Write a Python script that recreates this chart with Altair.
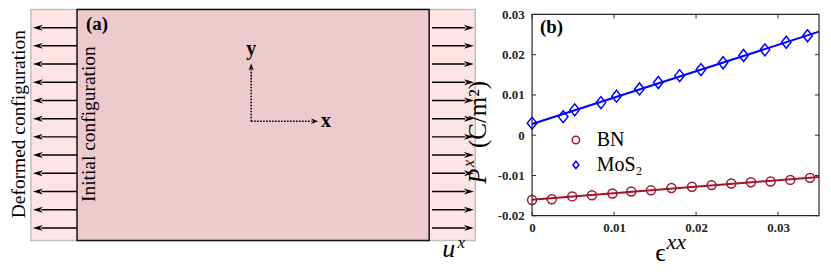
import altair as alt
import pandas as pd

# ---------------- panel (b): values ----------------
bn_strain = [0.0, 0.0024, 0.0049, 0.0073, 0.0098, 0.0121, 0.0145, 0.0170,
             0.0195, 0.0219, 0.0243, 0.0267, 0.0291, 0.0315, 0.0339]
bn_polarization = [-0.0161, -0.0159, -0.0152, -0.0149, -0.0145, -0.0140, -0.0137, -0.0131,
                   -0.0128, -0.0124, -0.0120, -0.0117, -0.0115, -0.0111, -0.0106]
mos2_strain = [0.0, 0.0038, 0.0052, 0.0084, 0.0103, 0.0131, 0.0154, 0.0180,
               0.0206, 0.0233, 0.0258, 0.0284, 0.0310, 0.0336]
mos2_polarization = [0.0030, 0.0046, 0.0063, 0.0081, 0.0097, 0.0115, 0.0131, 0.0148,
                     0.0163, 0.0180, 0.0198, 0.0212, 0.0231, 0.0247]
series_names = ["BN", "MoS₂"]
series_colors = ["#A2142F", "#0000FF"]
x_tick_values = [0, 0.01, 0.02, 0.03]
y_tick_values = [-0.02, -0.01, 0, 0.01, 0.02, 0.03]
x_range = [0, 0.035]
y_range = [-0.02, 0.03]

# ---------------- panel (a): schematic geometry (schematic units) ----------------
outer_box_x = [0.0, 23.12]
inner_box_x = [2.4, 20.72]
box_depth = [0.0, 12.7]
arrow_rows = [1, 2, 3, 4, 5, 6, 7, 8, 9, 10, 11, 12]
left_arrow_x = [2.4, 0.55, 0.1]      # shaft start, shaft end, tip
right_arrow_x = [20.87, 22.6, 23.05]
frame_origin = [11.46, 6.14]
y_arrow = [3.3, 2.97]                # shaft end depth, tip depth
x_arrow = [14.6, 14.94]              # shaft end x, tip x

# ---------------- layout ----------------
W_L, H_L = 446, 227
W_R, H_R = 288, 202
SPACING = 57
PPU_Y = 232 / 12.7
D0 = 12.7 - H_L / PPU_Y
FRAME = "#262626"
SERIF = "Liberation Serif, Tinos, 'Times New Roman', Times, 'DejaVu Serif', serif"

ARROW_HEAD = "M0,0L-1,-0.3L-0.72,0L-1,0.3Z"
AXIS_HEAD = "M0,0L-1,-0.38L-0.72,0L-1,0.38Z"
DIAMOND = "M0,-1L0.8,0L0,1L-0.8,0Z"
marker_shapes = ["circle", DIAMOND]
marker_sizes = [81, 144]

one = pd.DataFrame({"k": [0]})

# ---------------- left chart ----------------
xs = alt.Scale(domain=[outer_box_x[0], outer_box_x[1]], nice=False, zero=False)
ys = alt.Scale(domain=[D0, box_depth[1]], nice=False, zero=False, reverse=True)


def sx(f):
    return alt.X(f, type="quantitative", scale=xs, axis=None)


def sy(f):
    return alt.Y(f, type="quantitative", scale=ys, axis=None)


def box(xpair, fill, stroke):
    df = pd.DataFrame({"x0": [xpair[0]], "x1": [xpair[1]],
                       "d0": [box_depth[0]], "d1": [box_depth[1]]})
    return alt.Chart(df).mark_rect(fill=fill, stroke=stroke, strokeWidth=1.5).encode(
        x=sx("x0"), x2="x1", y=sy("d0"), y2="d1")


rows = []
for d in arrow_rows:
    rows.append({"depth": d, "x0": left_arrow_x[0], "x1": left_arrow_x[1],
                 "tip": left_arrow_x[2], "angle": 180})
    rows.append({"depth": d, "x0": right_arrow_x[0], "x1": right_arrow_x[1],
                 "tip": right_arrow_x[2], "angle": 0})
arrows_df = pd.DataFrame(rows)

shafts = alt.Chart(arrows_df).mark_rule(color="black", strokeWidth=1.5).encode(
    x=sx("x0"), x2="x1", y=sy("depth"))
heads = alt.Chart(arrows_df).mark_point(
    shape=ARROW_HEAD, filled=True, color="black", size=400, opacity=1, strokeWidth=0
).encode(x=sx("tip"), y=sy("depth"), angle=alt.Angle("angle:Q", scale=None))

ax_df = pd.DataFrame({
    "x0": [frame_origin[0], frame_origin[0]],
    "x1": [frame_origin[0], x_arrow[0]],
    "d0": [frame_origin[1], frame_origin[1]],
    "d1": [y_arrow[0], frame_origin[1]],
})
ax_shafts = alt.Chart(ax_df).mark_rule(color="black", strokeWidth=1.6, strokeDash=[1.6, 1.4]).encode(
    x=sx("x0"), x2="x1", y=sy("d0"), y2="d1")
axh_df = pd.DataFrame({"x": [frame_origin[0], x_arrow[1]],
                       "d": [y_arrow[1], frame_origin[1]],
                       "angle": [270, 0]})
ax_heads = alt.Chart(axh_df).mark_point(
    shape=AXIS_HEAD, filled=True, color="black", size=200, opacity=1, strokeWidth=0
).encode(x=sx("x"), y=sy("d"), angle=alt.Angle("angle:Q", scale=None))


def label(text, x, d, **kw):
    return alt.Chart(one).mark_text(text=text, font=SERIF, color="black", **kw).encode(
        x=alt.XDatum(x, type="quantitative", scale=xs, axis=None),
        y=alt.YDatum(d, type="quantitative", scale=ys, axis=None))


left = alt.layer(
    box(outer_box_x, "#FFE4E6", "#BFBFBF"),
    box(inner_box_x, "#ECCACD", "#111111"),
    shafts, heads, ax_shafts, ax_heads,
    label("(a)", 2.86, 0.82, fontSize=19, fontWeight="bold", align="left", baseline="middle"),
    label("y", 11.46, 2.2, fontSize=20, fontWeight="bold", align="center", baseline="middle"),
    label("x", 15.09, 6.14, fontSize=20, fontWeight="bold", align="left", baseline="middle"),
    label("Initial configuration", 3.0, 6.3, fontSize=19.5, angle=270,
          align="center", baseline="middle"),
    label("Deformed configuration", -0.61, 6.3, fontSize=19.5, angle=270,
          align="center", baseline="middle"),
    label("u", 21.74, 13.61, fontSize=26, fontStyle="italic", align="center", baseline="alphabetic"),
    label("x", 22.2, 13.12, fontSize=17, fontStyle="italic", align="left", baseline="alphabetic"),
).properties(width=W_L, height=H_L)

# ---------------- right chart ----------------
pts_df = pd.DataFrame({
    "x": bn_strain + mos2_strain,
    "P": bn_polarization + mos2_polarization,
    "series": [series_names[0]] * len(bn_strain) + [series_names[1]] * len(mos2_strain),
})
xr = alt.Scale(domain=x_range, nice=False, zero=False)
yr = alt.Scale(domain=y_range, nice=False, zero=False)
cs = alt.Scale(domain=series_names, range=series_colors)
shp = alt.Scale(domain=series_names, range=marker_shapes)

label_expr = "datum.value == 0 ? '0' : (datum.value < 0 ? '-' : '') + format(abs(datum.value), '.2f')"
ax_x = alt.Axis(values=x_tick_values, labelExpr=label_expr, labelFont=SERIF, labelFontWeight="bold",
                labelFontSize=13, labelColor=FRAME, labelPadding=6, ticks=False, tickSize=0,
                domain=False, grid=False, title=None, labelFlush=False)
ax_y = alt.Axis(values=y_tick_values, labelExpr=label_expr, labelFont=SERIF, labelFontWeight="bold",
                labelFontSize=13, labelColor=FRAME, labelPadding=8, ticks=False, tickSize=0,
                domain=False, grid=False, title=None)

# legend offsets are measured from the first (left) view of the concatenation
leg = alt.Legend(orient="none", legendX=W_L + SPACING + 34, legendY=116, title=None, labelFont=SERIF,
                 labelFontSize=20, labelColor="black", symbolSize=55, symbolStrokeWidth=1.5,
                 labelOffset=11, rowPadding=5, padding=0)

layers = []
for name, colour in zip(series_names, series_colors):
    sub = alt.Chart(pts_df).transform_filter(alt.datum.series == name)
    layers.append(
        sub.transform_regression("x", "P", extent=x_range).mark_line(
            strokeWidth=2, color=colour
        ).encode(
            x=alt.X("x:Q", scale=xr, axis=ax_x),
            y=alt.Y("P:Q", scale=yr, axis=ax_y),
        )
    )
for name, msize in zip(series_names, marker_sizes):
    sub = alt.Chart(pts_df).transform_filter(alt.datum.series == name)
    layers.append(
        sub.mark_point(filled=False, strokeWidth=1.5, opacity=1, size=msize).encode(
            x=alt.X("x:Q", scale=xr, axis=ax_x),
            y=alt.Y("P:Q", scale=yr, axis=ax_y),
            color=alt.Color("series:N", scale=cs, legend=leg),
            shape=alt.Shape("series:N", scale=shp, legend=leg),
        )
    )

xt_df = pd.DataFrame({"v": x_tick_values})
yt_df = pd.DataFrame({"v": y_tick_values})
tick_bottom = alt.Chart(xt_df).mark_rule(color=FRAME, strokeWidth=1).encode(
    x=alt.X("v:Q", scale=xr, axis=ax_x), y=alt.value(H_R), y2=alt.value(H_R - 4))
tick_top = alt.Chart(xt_df).mark_rule(color=FRAME, strokeWidth=1).encode(
    x=alt.X("v:Q", scale=xr, axis=ax_x), y=alt.value(0), y2=alt.value(4))
tick_left = alt.Chart(yt_df).mark_rule(color=FRAME, strokeWidth=1).encode(
    y=alt.Y("v:Q", scale=yr, axis=ax_y), x=alt.value(0), x2=alt.value(4))
tick_right = alt.Chart(yt_df).mark_rule(color=FRAME, strokeWidth=1).encode(
    y=alt.Y("v:Q", scale=yr, axis=ax_y), x=alt.value(W_R), x2=alt.value(W_R - 4))

frame = alt.Chart(one).mark_rect(fillOpacity=0, stroke=FRAME, strokeWidth=1.2).encode(
    x=alt.value(0), x2=alt.value(W_R), y=alt.value(0), y2=alt.value(H_R))


def ptext(text, x, y, **kw):
    return alt.Chart(one).mark_text(text=text, font=SERIF, color="black", **kw).encode(
        x=alt.value(x), y=alt.value(y))


right = alt.layer(
    *layers, tick_bottom, tick_top, tick_left, tick_right, frame,
    ptext("(b)", 8, 13, fontSize=19, fontWeight="bold", align="left", baseline="middle"),
    ptext("P", -54, 170, fontSize=25, fontStyle="italic", angle=270, align="left", baseline="middle"),
    ptext("x", -58, 153, fontSize=16, fontStyle="italic", angle=270, align="left", baseline="alphabetic"),
    ptext("(C/m²)", -54, 134, fontSize=25, angle=270, align="left", baseline="middle"),
    ptext("ϵ", 129, H_R + 45, fontSize=26, align="center", baseline="alphabetic"),
    ptext("xx", 135, H_R + 33, fontSize=22, fontStyle="italic", align="left", baseline="alphabetic"),
).properties(width=W_R, height=H_R)

chart = alt.hconcat(left, right, spacing=SPACING, bounds="flush").properties(
    padding={"left": 1, "top": 0, "right": 0, "bottom": 0}
).configure(font=SERIF).configure_view(strokeWidth=0)

chart.save("out.html", embed_options={"renderer": "svg", "actions": False})
